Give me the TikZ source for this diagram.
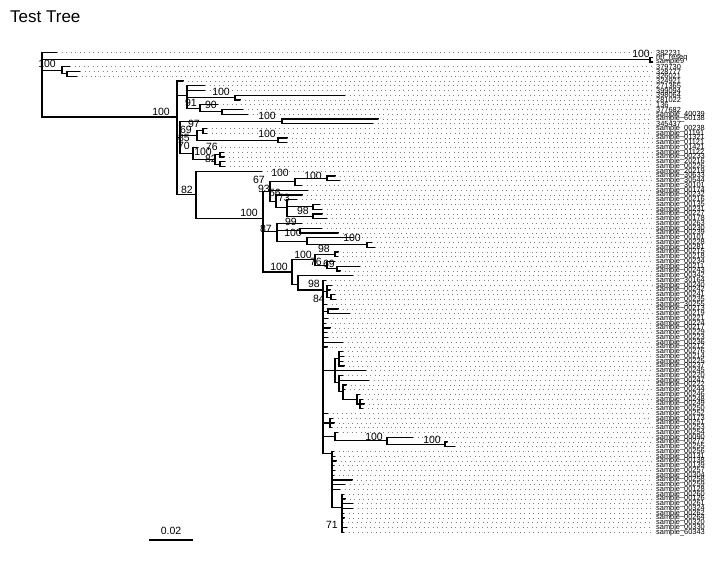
\documentclass[tikz,border=0pt]{standalone}
\usepackage{fontspec}
\setmainfont{Liberation Sans}
\usetikzlibrary{positioning}

\begin{document}
\begin{tikzpicture}[x=1pt,y=-1pt,
    br/.style={line width=1.1pt,line cap=rect},
    dots/.style={black!50,line width=0.8pt,dash pattern=on 0.9pt off 3.6pt},
    tiplab/.style={anchor=west,inner sep=0pt,font=\fontsize{7.4}{7.4}\selectfont},
    boot/.style={anchor=base east,inner sep=0pt,font=\fontsize{10.5}{10.5}\selectfont}]
  \path[use as bounding box,fill=white] (0,0) rectangle (725,573);
  \node[anchor=base west,inner sep=0pt,font=\fontsize{17}{17}\selectfont] (title) at (10,22) {Test Tree};
  % inner nodes: name/parent/x/row of stem/first row/last row
  \foreach \n/\p/\x/\r/\ra/\rb in {nR/nR/42/6.8/0/13.58, nN1/nR/650/1.5/1/2, nN2/nR/62/3.75/3/4.5,
      nN3/nN2/67/4.5/4/5, nA/nR/177/13.58/6/29.8, nB/nA/187/9/7/11.75, nB1/nB/235/9.5/9/10,
      nB2/nB/200/11.75/11/12.5, nB3/nB2/222/12.5/12/13, nE/nA/180/17.9/14.5/21.25,
      nC/nE/282/14.5/14/15, nF/nE/197/17.5/16.5/18.5, nF1/nF/203/16.5/16/17,
      nH/nF/278/18.5/18/19, nG/nE/193/21.25/20/22.5, nG1/nG/215/22.5/21.5/23.5,
      nG2/nG1/220/21.5/21/22, nG3/nG1/220/23.5/23/24, nK/nA/196/29.8/25/35,
      nM/nK/263/35/29.2/46.2, nP/nM/270/29.2/27.25/31.35, nQ/nP/295/27.25/26.5/28,
      nQ1/nQ/327/26.5/26/27, nP2/nP/276/31.35/30/32.7, nP3/nP2/287/32.7/31/34.5,
      nP4/nP3/313/32.5/32/33, nP5/nP3/313/34.5/34/35, nS87/nM/277/37.75/36/39.75,
      nSa/nS87/300/37.5/37/38, nSb/nS87/307/39.75/39/40.5, nSc/nSb/367/40.5/40/41,
      nRn/nM/292/46.2/43.6/48.75, nS/nRn/315/43.6/42.5/44.75, nS1/nS/335/42.5/42/43,
      nS2/nS/327/44.75/44/45.5, nS3/nS2/337/45.5/45/46, nT/nRn/298/48.75/47/50,
      nU/nT/323/50/48/84.5, nV/nU/327/50.25/49/51.5, nVa/nV/331/51.5/51/52,
      nW/nU/328/54.5/54/55, nY/nU/335/67/64.5/69.4, nY1/nY/339/64.5/63/66,
      nY2/nY/339/69.4/68/71.3, nY3/nY2/343/71.3/70/73, nY4/nY3/357/73/72/74,
      nY5/nY4/360/74/73/75, nZ/nU/330/78/77/79, nAA/nU/335/80.9/80/81.75,
      nAB/nAA/387/81.75/81/82.5, nAC/nAB/445/82.5/82/83, nAD/nU/332/84.5/84/95.7,
      nAE/nAD/342/95.7/93/101}{
    \coordinate (\n) at (\x,{52.5+4.75*\r});
    \draw[br] (\p |- \n) -- (\n);
    \draw[br] (\x,{52.5+4.75*\ra}) -- (\x,{52.5+4.75*\rb});
  }
  % tips: row/parent/end/label
  \foreach \i/\p/\xe/\lab in {0/nR/57/382231, 1/nN1/652/ref\_reseq, 2/nN1/652/sample9,
      3/nN2/70/379730, 4/nN3/80/328777, 5/nN3/77/326021, 6/nA/183/324921,
      7/nB/205/271365, 8/nB/205/399094, 9/nB1/345/398064, 10/nB1/240/281022,
      11/nB2/218/136, 12/nB3/243/377682, 13/nB3/248/sample\_40039,
      14/nC/378/sample\_60138, 15/nC/373/345437, 16/nF1/207/sample\_00238,
      17/nF1/207/sample\_01191, 18/nH/287/sample\_01321, 19/nH/287/sample\_01121,
      20/nG/198/sample\_01421, 21/nG2/224/sample\_01122, 22/nG2/224/sample\_00233,
      23/nG3/225/sample\_20216, 24/nG3/225/sample\_00226, 25/nK/262/sample\_20219,
      26/nQ1/335/sample\_30633, 27/nQ1/340/sample\_30544, 28/nQ/302/sample\_30101,
      29/nP/308/sample\_00174, 30/nP2/302/sample\_00232, 31/nP3/297/sample\_00216,
      32/nP4/320/sample\_00135, 33/nP4/322/sample\_00231, 34/nP5/322/sample\_00227,
      35/nP5/327/sample\_00178, 36/nS87/302/sample\_00263, 37/nSa/322/sample\_00230,
      38/nSa/338/sample\_00239, 39/nSb/353/sample\_00101, 40/nSc/372/sample\_00228,
      41/nSc/375/sample\_00281, 42/nS1/338/sample\_00215, 43/nS1/338/sample\_00218,
      44/nS2/335/sample\_00234, 45/nS3/360/sample\_00211, 46/nS3/340/sample\_00243,
      47/nT/353/sample\_00342, 48/nU/326/sample\_30164, 49/nV/332/sample\_00240,
      50/nV/330/sample\_00242, 51/nVa/335/sample\_00241, 52/nVa/336/sample\_00235,
      53/nU/327/sample\_30255, 54/nW/338/sample\_00213, 55/nW/350/sample\_00219,
      56/nU/328/sample\_00221, 57/nU/326/sample\_00224, 58/nU/330/sample\_00217,
      59/nU/327/sample\_00229, 60/nU/328/sample\_00223, 61/nU/343/sample\_00236,
      62/nU/327/sample\_00212, 63/nY1/343/sample\_00276, 64/nY1/344/sample\_00214,
      65/nY1/343/sample\_00225, 66/nY1/344/sample\_00237, 67/nY/366/sample\_00245,
      68/nY2/343/sample\_00220, 69/nY2/369/sample\_00247, 70/nY3/346/sample\_00222,
      71/nY3/345/sample\_00244, 72/nY4/360/sample\_00246, 73/nY5/363/sample\_00248,
      74/nY5/364/sample\_00249, 75/nY5/363/sample\_00250, 76/nU/328/sample\_00252,
      77/nZ/333/sample\_00173, 78/nZ/334/sample\_00251, 79/nZ/332/sample\_00253,
      80/nAA/338/sample\_00254, 81/nAB/413/sample\_00090, 82/nAC/447/sample\_00272,
      83/nAC/455/sample\_00255, 84/nAD/334/sample\_00256, 85/nAD/335/sample\_00131,
      86/nAD/336/sample\_00138, 87/nAD/334/sample\_00139, 88/nAD/335/sample\_00257,
      89/nAD/334/sample\_00304, 90/nAD/352/sample\_00258, 91/nAD/345/sample\_00259,
      92/nAD/340/sample\_00128, 93/nAE/344/sample\_00260, 94/nAE/345/sample\_00126,
      95/nAE/353/sample\_00261, 96/nAE/353/sample\_00324, 97/nAE/344/sample\_00262,
      98/nAE/344/sample\_00264, 99/nAE/343/sample\_00320, 100/nAE/347/sample\_00330,
      101/nAE/344/sample\_60343}{
    \coordinate (t\i) at (\xe,{52.5+4.75*\i});
    \node[tiplab] (l\i) at (656,{52.5+4.75*\i}) {\lab};
    \draw[br] (\p |- t\i) -- (t\i);
    \draw[dots] (t\i) -- ([xshift=-4pt]l\i.west);
  }
  % support values
  \foreach \x/\y/\b [count=\k] in {650/57/100, 56/67/100, 170/115/100, 230/95/100,
      197/106/91, 217/108/90, 276/119/100, 200/127/97, 192/133.5/69, 276/137/100,
      190/141/85, 190/149/70, 218/150/76, 212/155/100, 217/162/82, 193/193/82,
      258/216/100, 265/183/67, 289/176/100, 322/179/100, 270/192/93, 281/196/56,
      290/201/73, 309/214/98, 297/225/99, 272/232/87, 302/236/100, 361/241/100,
      312/258/100, 330/252/98, 322/265/76, 335/267/69, 288/270/100, 320/287/98,
      325/302/84, 383/440/100, 441/443/100, 338/528/71}
    \node[boot] (b\k) at (\x,\y) {\b};
  % scale bar
  \coordinate (s0) at (150,540);
  \coordinate (s1) at (192,540);
  \draw[br] (s0) -- (s1);
  \node[anchor=base,inner sep=0pt,font=\fontsize{10.5}{10.5}\selectfont] (scl) at (171,534) {0.02};
\end{tikzpicture}
\end{document}
